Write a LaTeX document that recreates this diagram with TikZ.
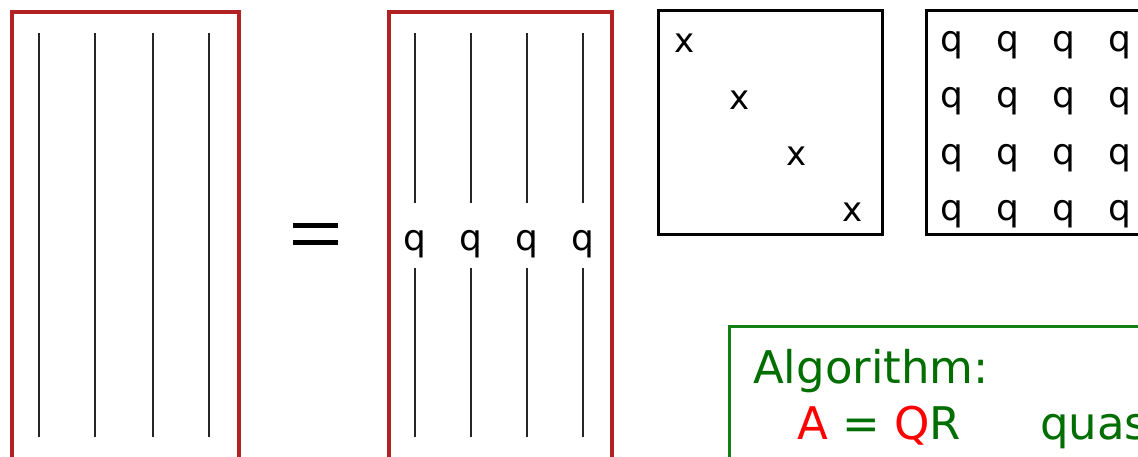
\documentclass[tikz,border=0pt]{standalone}
\usepackage{fontspec}
\setmainfont{DejaVu Sans}
\definecolor{boxred}{RGB}{178,34,34}
\definecolor{txtgreen}{RGB}{0,110,0}
\definecolor{boxgreen}{RGB}{20,128,20}
\definecolor{txtred}{RGB}{255,0,0}
\begin{document}
\begin{tikzpicture}[x=1pt,y=-1pt,
  redbox/.style={draw=boxred,line width=3.6pt,anchor=north west,inner sep=0pt},
  blackbox/.style={draw=black,line width=3.4pt,anchor=north west,inner sep=0pt},
  greenbox/.style={draw=boxgreen,line width=2.6pt,anchor=north west,inner sep=0pt},
  col/.style={draw=black!85,line width=2.3pt},
  qlab/.style={font=\fontsize{36}{36}\selectfont,anchor=base,inner sep=0pt},
  xlab/.style={font=\fontsize{34}{34}\selectfont,anchor=base,inner sep=0pt},
  alg/.style={font=\fontsize{45}{45}\selectfont,anchor=base west,inner sep=0pt,text=txtgreen},
  eqline/.style={draw=black,line width=5pt}]
\useasboundingbox (0,0) rectangle (1138,457);
\clip (0,0) rectangle (1138,457);
\fill[white] (0,0) rectangle (1138,457);
% left matrix A
\node[redbox,minimum width=227pt,minimum height=448pt] (A) at (10,10) {};
\foreach \i/\x in {1/39,2/95,3/153,4/209}{
  \coordinate (at\i) at (\x,33);
  \coordinate (ab\i) at (\x,437);
  \draw[col] (at\i) -- (ab\i);
}
% equals sign
\draw[eqline] (293,226) -- (338,226);
\draw[eqline] (293,243) -- (338,243);
% Q matrix
\node[redbox,minimum width=223pt,minimum height=448pt] (Q) at (387,10) {};
\foreach \i/\x in {1/415,2/471,3/527,4/583}{
  \node[qlab] (q\i) at (\x,251) {q};
  \coordinate (qt\i) at (\x,33);
  \coordinate (qm\i) at (\x,203);
  \coordinate (qn\i) at (\x,268);
  \coordinate (qb\i) at (\x,437);
  \draw[col] (qt\i) -- (qm\i);
  \draw[col] (qn\i) -- (qb\i);
}
% diagonal box
\node[blackbox,minimum width=224pt,minimum height=224pt] (D) at (657,9) {};
\node[xlab] (x1) at (685,53) {x};
\node[xlab] (x2) at (740,110) {x};
\node[xlab] (x3) at (797,166) {x};
\node[xlab] (x4) at (853,222) {x};
% q box
\node[blackbox,minimum width=260pt,minimum height=224pt] (M) at (925,9) {};
\foreach \r/\y in {1/52,2/108,3/165,4/221}{
  \foreach \c/\x in {1/952,2/1008,3/1064,4/1120}{
    \node[qlab] (m\r\c) at (\x,\y) {q};
  }
}
% algorithm box
\node[greenbox,minimum width=500pt,minimum height=200pt] (G) at (728,325) {};
\node[alg] (l1) at (753,383) {Algorithm:};
\node[alg] (l2) at (797,439) {\textcolor{txtred}{A} = \textcolor{txtred}{Q}R};
\node[alg] (l3) at (1040,439) {quas};
\end{tikzpicture}
\end{document}
